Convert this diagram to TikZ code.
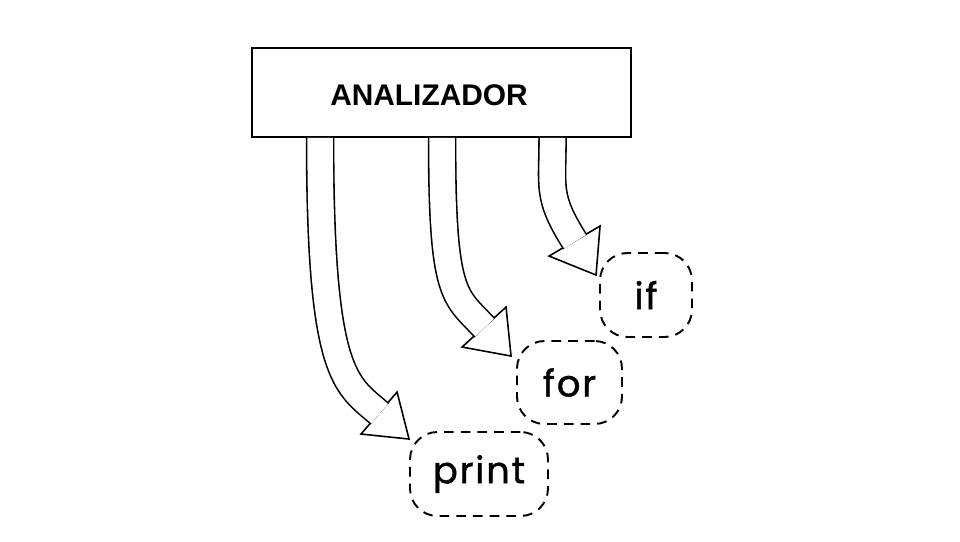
\documentclass[tikz,border=0pt]{standalone}
\usepackage{fontspec}
\setmainfont{Liberation Sans}
\newfontfamily\handfont[LetterSpace=5,FakeBold=1.2]{Poppins}
\usetikzlibrary{calc}

\begin{document}
\begin{tikzpicture}
	[x=0.02cm,y=-0.02cm,
	%Styles
	main box/.style={draw,line width=1.1pt,minimum width=7.58cm,minimum height=1.78cm},
	title text/.style={font=\fontsize{17}{20}\selectfont\bfseries},
	word node/.style={draw,dash pattern=on 5.5pt off 4pt,line width=1.1pt,rounded corners=0.55cm,font=\handfont\fontsize{21}{24}\selectfont},
	big shaft/.style={draw=black,double=white,double distance=14.5pt,line width=0.9pt,shorten >=-0.5pt},
	big head/.style={draw=black,fill=white,line width=0.9pt,line join=miter}
	]

	\useasboundingbox (0,0) rectangle (960,541);

	%The graphic
	\node[main box] (ana) at (441.5,92.5) {};
	\node[title text] (anatext) at (429,95) {ANALIZADOR};

	\node[word node,minimum width=1.84cm,minimum height=1.68cm] (ifw) at (646,295) {if};
	\node[word node,minimum width=2.1cm,minimum height=1.66cm] (forw) at (569.5,382.5) {for};
	\node[word node,minimum width=2.76cm,minimum height=1.68cm] (printw) at (479,474) {print};

	%Arrow to print
	\coordinate (s1) at ($(ana.south west)+(69,0)$);
	\coordinate (t1) at ($(printw.north west)+(0,8)$);
	\coordinate (m1) at ($(t1)+(-30,-26)$);
	\draw[big head] ($(t1)+(-48,-5)$) -- (t1) -- ($(t1)+(-12,-47)$) -- cycle;
	\draw[big shaft] (s1) .. controls +(0,240) and ($(m1)!-1.1!(t1)$) .. (m1);

	%Arrow to for
	\coordinate (s2) at ($(ana.south west)+(191,0)$);
	\coordinate (t2) at ($(forw.north west)+(-5,16)$);
	\coordinate (m2) at ($(t2)+(-27,-29)$);
	\draw[big head] ($(t2)+(-49,-9)$) -- (t2) -- ($(t2)+(-5,-49)$) -- cycle;
	\draw[big shaft] (s2) .. controls +(0,160) and ($(m2)!-1.1!(t2)$) .. (m2);

	%Arrow to if
	\coordinate (s3) at ($(ana.south west)+(301.5,0)$);
	\coordinate (t3) at ($(ifw.north west)+(-3,23)$);
	\coordinate (m3) at ($(t3)+(-21.5,-34)$);
	\draw[big head] ($(t3)+(-47,-19)$) -- (t3) -- ($(t3)+(4,-49)$) -- cycle;
	\draw[big shaft] (s3) .. controls +(0,50) and ($(m3)!-1.3!(t3)$) .. (m3);
\end{tikzpicture}
\end{document}
